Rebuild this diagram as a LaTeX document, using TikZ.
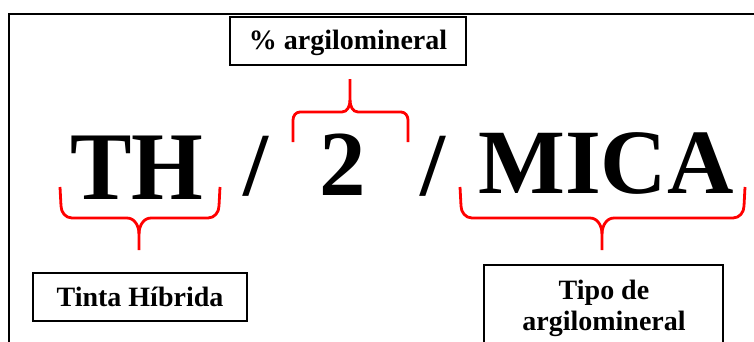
\documentclass[tikz,border=0pt]{standalone}
\usepackage{fontspec}
\setmainfont{Liberation Serif}
\begin{document}
\begin{tikzpicture}[x=1pt,y=-1pt,
  labelbox/.style={draw=black,line width=1.6pt,inner sep=0pt,font=\fontsize{28}{31}\selectfont\bfseries},
  bigtext/.style={font=\fontsize{93}{93}\selectfont\bfseries,inner sep=0pt,anchor=base},
  bracepath/.style={draw=red,line width=2.8pt,line join=round}]
\clip (0,0) rectangle (754,341);
\fill[white] (0,0) rectangle (754,341);
% outer frame
\draw[line width=1.6pt] (9,400) -- (9,14) -- (800,14);
% top label
\node[labelbox,minimum width=236pt,minimum height=48pt,text height=21pt,text depth=5pt] (pct) at (348,41) {\% argilomineral};
% big text
\node[bigtext,font=\fontsize{97}{97}\selectfont\bfseries,xscale=0.95] (th) at (137,199) {TH};
\node[bigtext,font=\fontsize{90}{90}\selectfont\bfseries] (s1) at (256,195) {/};
\node[bigtext] (two) at (343,195) {2};
\node[bigtext,font=\fontsize{90}{90}\selectfont\bfseries] (s2) at (433,195) {/};
\node[bigtext,font=\fontsize{92}{92}\selectfont\bfseries] (mica) at (606,193) {MICA};
% bottom labels
\node[labelbox,minimum width=214pt,minimum height=48pt,text height=22pt,text depth=4pt] (tinta) at (140,297) {Tinta Híbrida};
\draw[line width=1.6pt] (484,400) -- (484,265) -- (723,265) -- (723,400);
\node[font=\fontsize{28}{31}\selectfont\bfseries,align=center,anchor=base] (tipo) at (604,330) {Tipo de\\argilomineral};
% braces
\coordinate (thtip) at (139,250);
\path[bracepath] (60,187) -- (61,206) to[out=-90,in=180] (72,218) -- (127,218) to[out=0,in=90] (139,234) -- (thtip);
\path[bracepath] (220,187) -- (219,206) to[out=-90,in=0] (208,218) -- (151,218) to[out=180,in=90] (139,234);
\coordinate (twotip) at (350,79);
\path[bracepath] (293,142) -- (293,120) to[out=90,in=180] (300,112) -- (342,112) to[out=0,in=-90] (350,100) -- (twotip);
\path[bracepath] (408,142) -- (408,120) to[out=90,in=0] (401,112) -- (358,112) to[out=180,in=-90] (350,100);
\coordinate (micatip) at (602,250);
\path[bracepath] (460,187) -- (461,206) to[out=-90,in=180] (472,218) -- (590,218) to[out=0,in=90] (602,234) -- (micatip);
\path[bracepath] (745,187) -- (744,206) to[out=-90,in=0] (733,218) -- (614,218) to[out=180,in=90] (602,234);
\end{tikzpicture}
\end{document}
